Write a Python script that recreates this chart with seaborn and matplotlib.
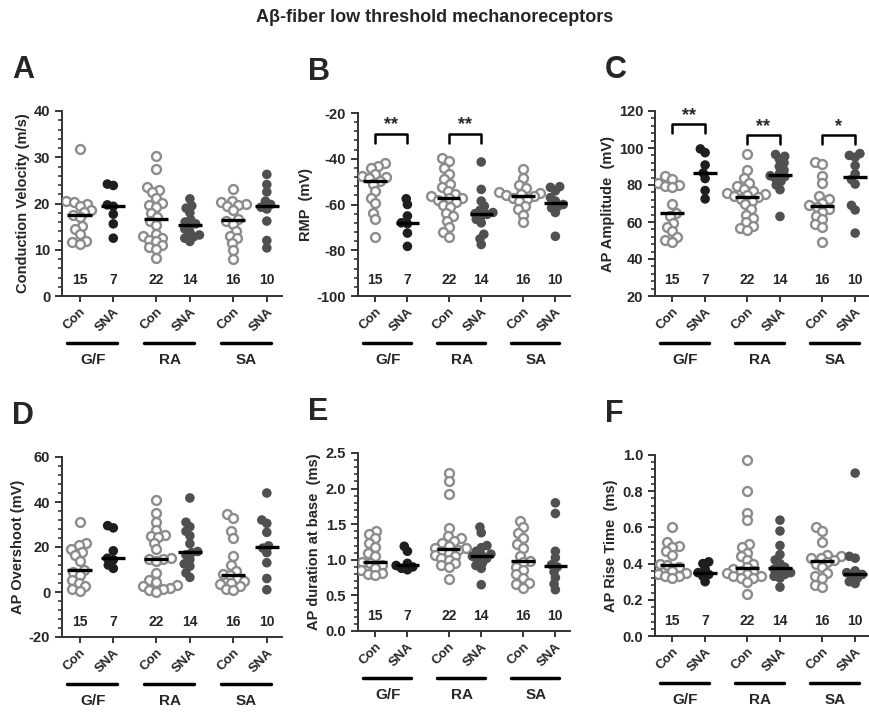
"""
Ab-fiber LTMR properties: Con vs SNA, per receptor type (G/F, RA, SA)
"""
import numpy as np
import pandas as pd
import seaborn as sns
import matplotlib.pyplot as plt
from matplotlib.ticker import MultipleLocator, AutoMinorLocator, FormatStrFormatter

groups = ["G/F", "RA", "SA"]
conds = ["Con", "SNA"]
xpos = [0, 1, 2.27, 3.27, 4.55, 5.55]

# A - conduction velocity (m/s)
cv_gf_con = [31.7, 20.6, 20.4, 19.8, 19.5, 18.5, 18.2, 17.6, 17.0, 15.2, 14.5, 13.3, 12.0, 11.6, 11.3]
cv_gf_sna = [24.2, 23.9, 19.7, 19.4, 17.7, 15.6, 12.5]
cv_ra_con = [30.2, 27.5, 23.6, 23.0, 22.5, 21.2, 20.2, 19.6, 19.3, 18.0, 17.0, 16.3, 15.4, 13.5,
             13.0, 12.6, 12.2, 11.8, 11.0, 10.5, 10.2, 8.3]
cv_ra_sna = [21.0, 19.5, 19.0, 18.0, 16.5, 16.0, 15.6, 15.2, 14.5, 13.8, 13.2, 12.8, 12.5, 11.8]
cv_sa_con = [23.2, 20.6, 20.3, 20.0, 19.7, 19.4, 18.6, 16.6, 16.2, 15.5, 14.0, 13.0, 12.5, 11.5, 10.0, 8.0]
cv_sa_sna = [26.3, 24.1, 22.5, 20.5, 19.8, 19.2, 18.8, 16.2, 12.0, 10.4]

# B - resting membrane potential (mV)
rmp_gf_con = [-42.0, -43.0, -44.0, -46.5, -47.5, -48.0, -48.5, -49.7, -51.0, -54.0, -57.0, -59.5,
              -63.5, -66.5, -74.2]
rmp_gf_sna = [-57.5, -60.0, -65.0, -68.0, -68.4, -72.5, -78.3]
rmp_ra_con = [-39.5, -41.0, -44.0, -46.5, -49.0, -51.0, -52.5, -54.0, -55.5, -56.5, -57.0, -57.3,
              -58.0, -59.0, -60.0, -61.0, -63.5, -65.0, -67.0, -70.0, -72.0, -74.0]
rmp_ra_sna = [-41.4, -53.4, -58.5, -60.7, -62.5, -63.5, -64.0, -64.3, -65.0, -66.5, -68.0, -73.0,
              -75.0, -77.5]
rmp_sa_con = [-44.3, -48.5, -51.5, -53.0, -54.5, -55.0, -55.5, -56.0, -56.5, -57.0, -57.5, -58.5,
              -60.5, -62.0, -64.5, -67.8]
rmp_sa_sna = [-52.2, -52.5, -54.0, -57.0, -58.5, -60.0, -61.0, -61.5, -63.5, -73.9]

# C - AP amplitude (mV)
amp_gf_con = [85.0, 83.5, 81.0, 80.0, 79.5, 79.0, 69.5, 65.0, 63.0, 59.5, 57.5, 55.0, 52.0, 50.5, 49.0]
amp_gf_sna = [99.5, 97.5, 90.8, 86.5, 83.5, 77.0, 72.5]
amp_ra_con = [97.0, 88.0, 84.0, 81.0, 79.5, 78.0, 76.5, 75.5, 75.0, 74.5, 74.0, 73.5, 72.5, 71.5,
              69.5, 67.0, 64.0, 62.0, 60.0, 58.0, 56.5, 55.5]
amp_ra_sna = [96.5, 95.5, 94.0, 92.0, 90.0, 88.0, 86.0, 85.0, 84.5, 83.5, 82.0, 80.0, 77.5, 63.0]
amp_sa_con = [92.5, 91.5, 85.0, 81.0, 74.0, 72.5, 70.5, 69.0, 68.0, 67.0, 65.5, 63.5, 61.5, 59.0,
              57.5, 49.0]
amp_sa_sna = [97.0, 96.0, 95.0, 90.5, 86.0, 83.0, 80.5, 69.0, 66.5, 54.0]

# D - AP overshoot (mV)
ovs_gf_con = [31.3, 22.0, 21.0, 19.0, 18.0, 16.5, 14.0, 10.0, 9.0, 7.5, 5.5, 4.0, 2.5, 1.5, 0.5]
ovs_gf_sna = [29.5, 28.5, 18.3, 15.0, 14.3, 12.0, 10.5]
ovs_ra_con = [41.0, 35.0, 31.0, 27.5, 25.5, 25.0, 24.5, 22.0, 19.0, 15.0, 14.8, 14.5, 14.0, 8.5,
              5.5, 4.5, 3.0, 2.5, 2.0, 1.5, 1.0, 0.0]
ovs_ra_sna = [41.8, 31.0, 29.0, 27.0, 25.0, 21.5, 18.0, 17.5, 16.5, 14.5, 12.5, 11.5, 8.5, 6.5]
ovs_sa_con = [34.5, 33.0, 27.0, 24.0, 16.0, 12.0, 9.5, 8.0, 7.5, 6.0, 5.0, 4.0, 3.5, 2.5, 1.5, 1.0]
ovs_sa_sna = [44.0, 32.0, 30.5, 26.5, 20.5, 19.5, 17.5, 13.0, 6.0, 1.0]

# E - AP duration at base (ms)
dur_gf_con = [1.40, 1.36, 1.30, 1.24, 1.18, 1.10, 1.05, 0.97, 0.95, 0.92, 0.88, 0.85, 0.82, 0.80, 0.78]
dur_gf_sna = [1.19, 1.12, 0.95, 0.92, 0.90, 0.88, 0.86]
dur_ra_con = [2.22, 2.10, 1.92, 1.45, 1.33, 1.30, 1.27, 1.24, 1.20, 1.17, 1.16, 1.14, 1.12, 1.10,
              1.07, 1.05, 1.02, 1.00, 0.95, 0.92, 0.90, 0.73]
dur_ra_sna = [1.46, 1.38, 1.20, 1.17, 1.12, 1.08, 1.07, 1.05, 1.02, 1.00, 0.96, 0.92, 0.88, 0.65]
dur_sa_con = [1.55, 1.46, 1.37, 1.30, 1.22, 1.16, 1.06, 0.99, 0.97, 0.90, 0.86, 0.80, 0.75, 0.67,
              0.66, 0.61]
dur_sa_sna = [1.80, 1.65, 1.12, 1.03, 0.93, 0.90, 0.83, 0.75, 0.66, 0.58]

# F - AP rise time (ms)
rise_gf_con = [0.60, 0.52, 0.50, 0.49, 0.47, 0.45, 0.40, 0.39, 0.38, 0.36, 0.35, 0.34, 0.33, 0.33, 0.32]
rise_gf_sna = [0.41, 0.40, 0.37, 0.35, 0.34, 0.33, 0.30]
rise_ra_con = [0.97, 0.80, 0.68, 0.64, 0.51, 0.49, 0.46, 0.44, 0.42, 0.40, 0.38, 0.37, 0.36, 0.36,
               0.35, 0.34, 0.33, 0.33, 0.32, 0.32, 0.30, 0.23]
rise_ra_sna = [0.64, 0.58, 0.50, 0.45, 0.42, 0.40, 0.38, 0.37, 0.36, 0.35, 0.34, 0.33, 0.32, 0.27]
rise_sa_con = [0.60, 0.58, 0.52, 0.45, 0.44, 0.43, 0.43, 0.42, 0.41, 0.40, 0.38, 0.35, 0.33, 0.32,
               0.28, 0.27]
rise_sa_sna = [0.90, 0.44, 0.43, 0.36, 0.35, 0.34, 0.33, 0.32, 0.30, 0.29]

sns.set_style("ticks")
plt.rcParams["font.family"] = ["Liberation Sans", "DejaVu Sans"]
plt.rcParams["font.weight"] = "bold"
plt.rcParams["axes.labelweight"] = "bold"

W, H = 870, 712
fig = plt.figure(figsize=(W / 100, H / 100), dpi=100)

sna_pal = {"G/F": "#1e1e1e", "RA": "#505050", "SA": "#505050"}

panels = [
    # letter, series, ylabel, ylim, major, fmt, box (left, top, width, height px), brackets
    ("A", [cv_gf_con, cv_gf_sna, cv_ra_con, cv_ra_sna, cv_sa_con, cv_sa_sna],
     "Conduction Velocity (m/s)", (0, 40), 10, "%d", (62, 111, 220, 185), []),
    ("B", [rmp_gf_con, rmp_gf_sna, rmp_ra_con, rmp_ra_sna, rmp_sa_con, rmp_sa_sna],
     "RMP  (mV)", (-100, -20), 20, "%d", (358, 113, 212, 183),
     [(0, -29, -33, "**"), (2, -29, -33, "**")]),
    ("C", [amp_gf_con, amp_gf_sna, amp_ra_con, amp_ra_sna, amp_sa_con, amp_sa_sna],
     "AP Amplitude  (mV)", (20, 120), 20, "%d", (655, 111, 215, 185),
     [(0, 113, 108, "**"), (2, 107, 102, "**"), (4, 107, 102, "*")]),
    ("D", [ovs_gf_con, ovs_gf_sna, ovs_ra_con, ovs_ra_sna, ovs_sa_con, ovs_sa_sna],
     "AP Overshoot (mV)", (-20, 60), 20, "%d", (62, 457, 220, 180), []),
    ("E", [dur_gf_con, dur_gf_sna, dur_ra_con, dur_ra_sna, dur_sa_con, dur_sa_sna],
     "AP duration at base  (ms)", (0, 2.5), 0.5, "%.1f", (358, 453, 212, 178), []),
    ("F", [rise_gf_con, rise_gf_sna, rise_ra_con, rise_ra_sna, rise_sa_con, rise_sa_sna],
     "AP Rise Time  (ms)", (0, 1.0), 0.2, "%.1f", (655, 455, 215, 181), []),
]

swarms = []  # (collection, display size): swarm laid out tight, drawn bigger (Prism look)

for letter, series, ylabel, ylim, major, fmt, (left, top, wpx, hpx), brackets in panels:
    ax = fig.add_axes([left / W, (H - top - hpx) / H, wpx / W, hpx / H])

    rows = []
    for i, vals in enumerate(series):
        for v in vals:
            rows.append({"pos": xpos[i], "group": groups[i // 2], "cond": conds[i % 2], "value": v})
    df = pd.DataFrame(rows)

    n0 = len(ax.collections)
    sns.swarmplot(data=df[df["cond"] == "Con"], x="pos", y="value", native_scale=True,
                  orient="v", color="white", edgecolor="#8c8c8c", linewidth=1.7,
                  size=3.4, ax=ax, zorder=3)
    swarms += [(c, 6.4) for c in ax.collections[n0:]]
    n0 = len(ax.collections)
    sns.swarmplot(data=df[df["cond"] == "SNA"], x="pos", y="value", hue="group",
                  palette=sna_pal, native_scale=True, orient="v", linewidth=0,
                  size=4.2, legend=False, ax=ax, zorder=3)
    swarms += [(c, 6.9) for c in ax.collections[n0:]]

    # medians and n
    for i, vals in enumerate(series):
        ax.hlines(np.median(vals), xpos[i] - 0.36, xpos[i] + 0.36, colors="black",
                  lw=2.4, zorder=5)
        ax.text(xpos[i], 0.085, str(len(vals)), transform=ax.get_xaxis_transform(),
                ha="center", va="center", fontsize=10)

    for i0, ytop, yleg, stars in brackets:
        x0, x1 = xpos[i0], xpos[i0 + 1]
        ax.plot([x0, x0, x1, x1], [yleg, ytop, ytop, yleg], color="black", lw=1.8, zorder=5)
        ax.text((x0 + x1) / 2, ytop, stars, ha="center", va="bottom", fontsize=13)

    ax.set_xlim(-0.52, 6.0)
    ax.set_ylim(*ylim)
    ax.yaxis.set_major_locator(MultipleLocator(major))
    ax.yaxis.set_minor_locator(AutoMinorLocator(5))
    ax.yaxis.set_major_formatter(FormatStrFormatter(fmt))
    ax.set_xticks(xpos)
    ax.set_xticklabels(conds * 3, rotation=45, ha="right", va="top",
                       rotation_mode="anchor", fontsize=9.5)
    ax.tick_params(axis="y", labelsize=10.5, length=5, width=1.3)
    ax.tick_params(axis="y", which="minor", length=3, width=1.1)
    ax.tick_params(axis="x", length=4, width=1.3, pad=3)
    ax.set_xlabel("")
    ax.set_ylabel(ylabel, fontsize=10.5, labelpad=3)
    for s in ["left", "bottom"]:
        ax.spines[s].set_linewidth(1.4)
        ax.spines[s].set_color("#333333")
    sns.despine(ax=ax)

    # receptor type underlines
    tr = ax.get_xaxis_transform()
    for g in range(3):
        p0, p1 = xpos[2 * g], xpos[2 * g + 1]
        ax.plot([p0 - 0.37, p1 + 0.12], [-47 / hpx] * 2, transform=tr, clip_on=False,
                color="black", lw=2.5)
        ax.text((p0 + p1) / 2 - 0.1, -64 / hpx, groups[g], transform=tr, ha="center",
                va="center", fontsize=11)

    fig.text((left - 50) / W, 1 - (top - 56) / H, letter, fontsize=22, fontweight="bold",
             ha="left", va="top")

fig.text(0.5, 1 - 18 / H, "A\u03b2-fiber low threshold mechanoreceptors", ha="center",
         va="center", fontsize=13, fontweight="bold")

# let seaborn lay out the swarms once, then freeze positions and enlarge markers
fig.canvas.draw()
for coll, sz in swarms:
    if "draw" in coll.__dict__:
        del coll.draw
    coll.set_sizes([sz ** 2])

fig.savefig("out.png", dpi=100)
print("saved out.png")
